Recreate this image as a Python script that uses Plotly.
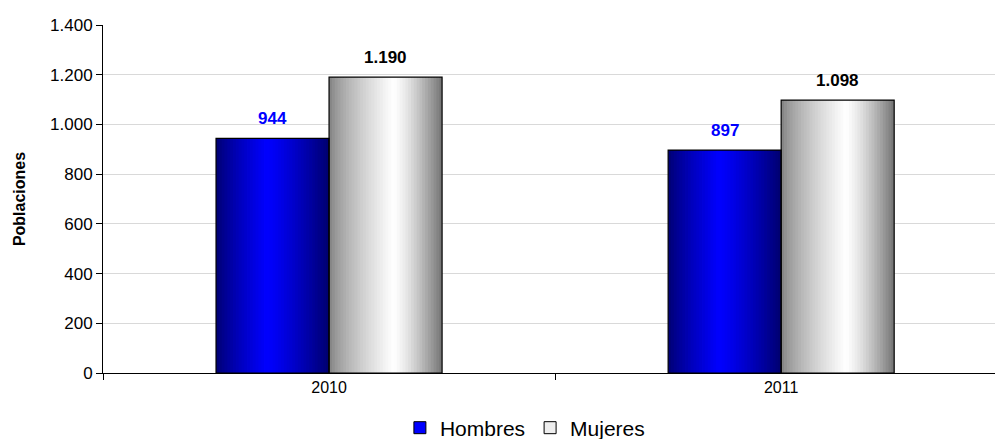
import plotly.graph_objects as go

years = ["2010", "2011"]
hombres = [944, 897]
mujeres = [1190, 1098]
series_names = ["Hombres", "Mujeres"]

N = 40
BAR_W = 0.25

def lerp(a, b, t):
    return tuple(int(round(a[k] + (b[k] - a[k]) * t)) for k in range(3))

def blue_at(t):
    dark = (0, 0, 110)
    bright = (0, 0, 255)
    peak = 0.45
    if t <= peak:
        return lerp(dark, bright, (t / peak) ** 0.8)
    return lerp(bright, dark, ((t - peak) / (1 - peak)) ** 1.2)

def gray_at(t):
    left = (125, 125, 125)
    white = (255, 255, 255)
    right = (115, 115, 115)
    peak = 0.57
    if t <= peak:
        return lerp(left, white, (t / peak) ** 0.7)
    return lerp(white, right, ((t - peak) / (1 - peak)) ** 1.3)

fig = go.Figure()
w = BAR_W / N
for vals, start, cfun in [(hombres, -BAR_W, blue_at), (mujeres, 0.0, gray_at)]:
    for i in range(N):
        t = (i + 0.5) / N
        c = cfun(t)
        fig.add_trace(go.Bar(
            x=years, y=vals, offset=start + i * w, width=w * 1.3 if i < N - 1 else w,
            marker=dict(color=f"rgb{c}", line=dict(width=0)),
            showlegend=False, hoverinfo="skip",
        ))

# outlines
for vals, start in [(hombres, -BAR_W), (mujeres, 0.0)]:
    fig.add_trace(go.Bar(
        x=years, y=vals, offset=start, width=BAR_W,
        marker=dict(color="rgba(0,0,0,0)", line=dict(color="black", width=1.2)),
        showlegend=False, hoverinfo="skip",
    ))

# value labels
for vals, start, tcol in [(hombres, -BAR_W, "#0000ff"), (mujeres, 0.0, "#000000")]:
    for idx, v in enumerate(vals):
        fig.add_annotation(
            x=idx + start + BAR_W / 2, y=v, xref="x", yref="y",
            text="<b>" + f"{v:,}".replace(",", ".") + "</b>",
            showarrow=False, yanchor="middle", yshift=20,
            font=dict(family="Liberation Sans, Arial", size=17, color=tcol),
        )

# legend entries
fig.add_trace(go.Bar(x=years, y=[None, None], name=series_names[0],
                     marker=dict(color="#0000ff", line=dict(color="black", width=1))))
fig.add_trace(go.Bar(x=years, y=[None, None], name=series_names[1],
                     marker=dict(color="#eeeeee", line=dict(color="black", width=1))))

fig.update_layout(
    width=996, height=439,
    margin=dict(l=103, r=1, t=25, b=66),
    barmode="overlay",
    plot_bgcolor="white", paper_bgcolor="white",
    separators=",.",
    font=dict(family="Liberation Sans, Arial", size=15, color="black"),
    legend=dict(orientation="h", x=0.527, xanchor="center", xref="container",
                y=0.025, yanchor="middle", yref="container",
                font=dict(size=21), itemwidth=30, tracegroupgap=0),
    xaxis=dict(range=[-0.5, 1.473], showline=True, linecolor="black", linewidth=1,
               ticks="outside", ticklen=6, tickcolor="black", tickson="boundaries",
               showgrid=False, tickfont=dict(size=16), automargin=False),
    yaxis=dict(range=[0, 1400], dtick=200, tickformat=",d", showline=True,
               linecolor="black", linewidth=1, ticks="outside", ticklen=6,
               tickcolor="black", gridcolor="#d9d9d9", gridwidth=1,
               tickfont=dict(size=17), automargin=False,
               title=dict(text="<b>Poblaciones</b>", font=dict(size=16), standoff=20)),
)

fig.write_html("out.html", config={"displayModeBar": False},
               post_script="document.body.style.margin='0';document.body.style.overflow='hidden';")
